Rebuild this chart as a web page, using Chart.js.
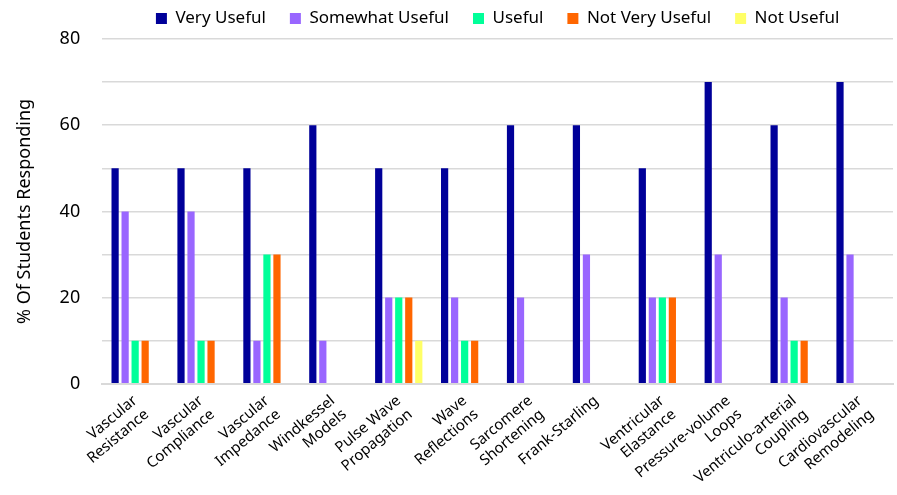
<!DOCTYPE html>
<html>
<head>
<meta charset="utf-8">
<script src="https://cdn.jsdelivr.net/npm/chart.js@4"></script>
<style>
  html, body { margin: 0; padding: 0; background: #fff; }
  #wrap { width: 897px; height: 495px; }
</style>
</head>
<body>
<div id="wrap"><canvas id="myChart"></canvas></div>
<script>
const labels = [
    ['Vascular', 'Resistance'],
    ['Vascular', 'Compliance'],
    ['Vascular', 'Impedance'],
    ['Windkessel', 'Models'],
    ['Pulse Wave', 'Propagation'],
    ['Wave', 'Reflections'],
    ['Sarcomere', 'Shortening'],
    ['Frank-Starling'],
    ['Ventricular', 'Elastance'],
    ['Pressure-volume', 'Loops'],
    ['Ventriculo-arterial', 'Coupling'],
    ['Cardiovascular', 'Remodeling'],
];

const veryUseful     = [50, 50, 50, 60, 50, 50, 60, 60, 50, 70, 60, 70];
const somewhatUseful = [40, 40, 10, 10, 20, 20, 20, 30, 20, 30, 20, 30];
const useful         = [10, 10, 30,  0, 20, 10,  0,  0, 20,  0, 10,  0];
const notVeryUseful  = [10, 10, 30,  0, 20, 10,  0,  0, 20,  0, 10,  0];
const notUseful      = [ 0,  0,  0,  0, 10,  0,  0,  0,  0,  0,  0,  0];

const font = "'Noto Sans', sans-serif";

const data = {
    labels: labels,
    datasets: [
        { label: 'Very Useful', data: veryUseful, backgroundColor: '#000099' },
        { label: 'Somewhat Useful', data: somewhatUseful, backgroundColor: '#9966FF' },
        { label: 'Useful', data: useful, backgroundColor: '#00FF99' },
        { label: 'Not Very Useful', data: notVeryUseful, backgroundColor: '#FF6600' },
        { label: 'Not Useful', data: notUseful, backgroundColor: '#FFFF66' },
    ]
};

// centre the legend over the plot area and leave a little more room under it
const legendOverPlot = {
    id: 'legendOverPlot',
    beforeLayout(chart) {
        const lg = chart.legend;
        if (lg && !lg._extraGap) {
            const fit = lg.fit.bind(lg);
            lg.fit = function() { fit(); this.height += 2; };
            lg._extraGap = true;
        }
    },
    afterLayout(chart) {
        const shift = (chart.chartArea.left + chart.chartArea.right) / 2 - (chart.legend.left + chart.legend.right) / 2;
        chart.legend.left += shift;
        chart.legend.right += shift;
        chart.legend.legendHitBoxes.forEach(b => { b.left += shift; });
    }
};

const config = {
    type: 'bar',
    data: data,
    plugins: [legendOverPlot],
    options: {
        responsive: true,
        maintainAspectRatio: false,
        animation: false,
        layout: { padding: { left: 14, right: 4, top: -14, bottom: -6 } },
        datasets: {
            bar: { barPercentage: 0.72, categoryPercentage: 0.76 }
        },
        plugins: {
            legend: {
                position: 'top',
                labels: {
                    color: '#000',
                    font: { family: font, size: 17 },
                    boxWidth: 11,
                    boxHeight: 11,
                    padding: 24
                }
            },
            tooltip: { enabled: false }
        },
        scales: {
            x: {
                grid: { display: false },
                border: { color: '#d9d9d9', width: 2 },
                ticks: {
                    color: '#000',
                    font: { family: font, size: 15 },
                    maxRotation: 40,
                    minRotation: 40,
                    autoSkip: false,
                    padding: 0
                }
            },
            y: {
                min: 0,
                max: 80,
                grid: { color: '#d9d9d9', lineWidth: 1.5, drawTicks: false },
                border: { display: false },
                ticks: {
                    stepSize: 10,
                    color: '#000',
                    font: { family: font, size: 18 },
                    padding: 22,
                    callback: function(v) { return v % 20 === 0 ? v : ''; }
                },
                title: {
                    display: true,
                    text: '% Of Students Responding',
                    color: '#000',
                    font: { family: font, size: 18 },
                    padding: { top: 0, bottom: 2 }
                }
            }
        }
    }
};

const myChart = new Chart(document.getElementById('myChart'), config);
</script>
</body>
</html>
